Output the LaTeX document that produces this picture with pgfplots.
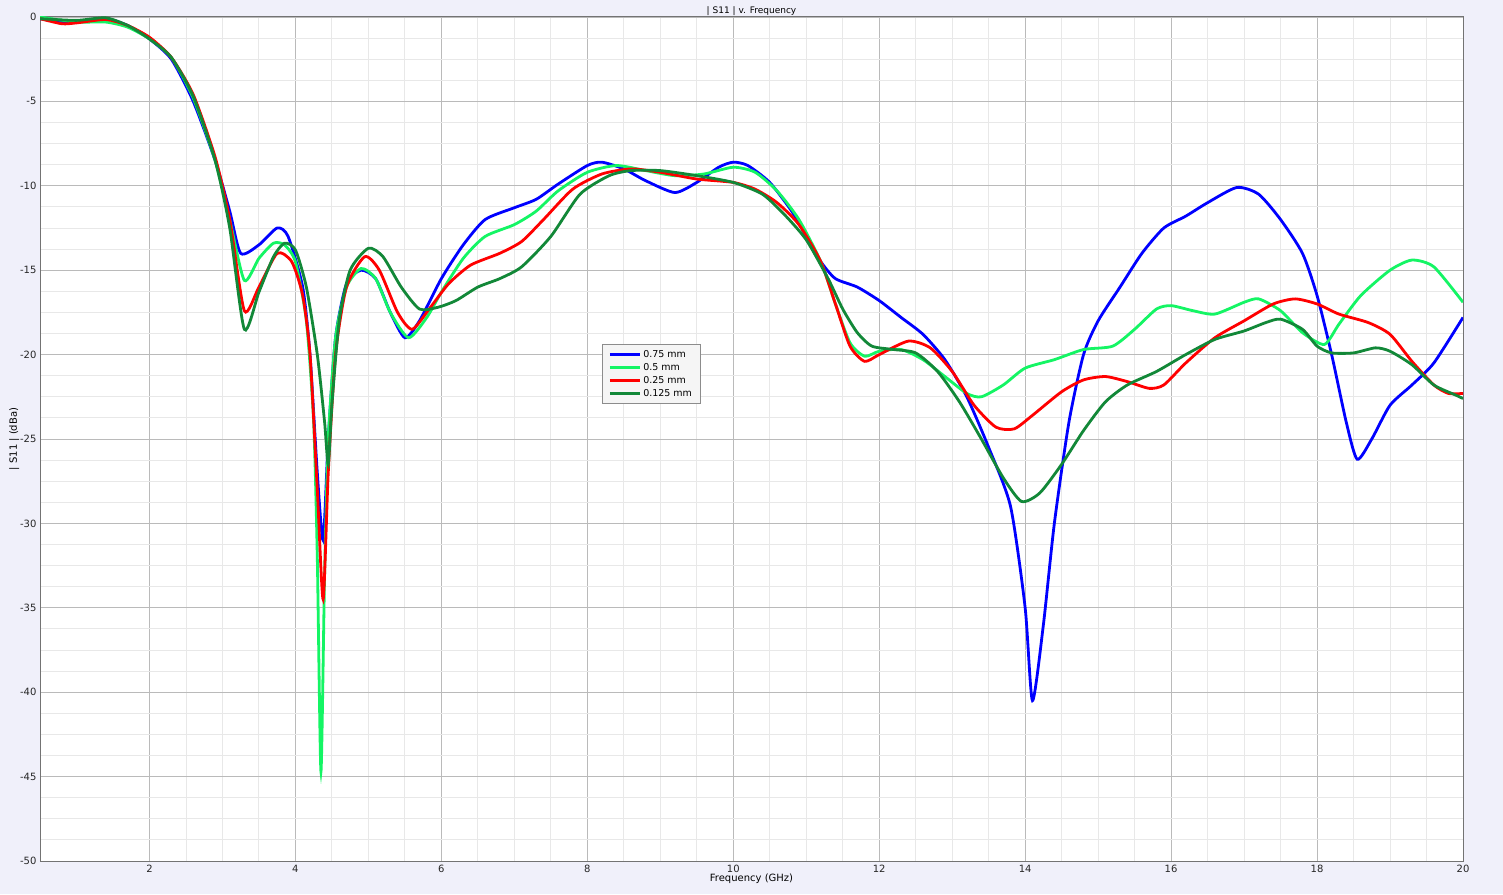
\documentclass[border=0pt]{standalone}
\usepackage{pgfplots}
\pgfplotsset{compat=1.18}
\usepackage{fontspec}
\setmainfont{DejaVu Sans}
\definecolor{bgc}{RGB}{240,240,250}
\definecolor{cblue}{RGB}{0,0,255}
\definecolor{clgreen}{RGB}{20,245,100}
\definecolor{cred}{RGB}{255,0,0}
\definecolor{cdgreen}{RGB}{18,136,56}
\begin{document}
\begin{tikzpicture}[x=1pt,y=1pt]
\fill[bgc] (0,0) rectangle (1503,894);
\begin{axis}[
  at={(40pt,33pt)}, anchor=south west,
  scale only axis, width=1423pt, height=844pt,
  xmin=0.5, xmax=20, ymin=-50, ymax=0,
  xtick={2,4,...,20}, ytick={-50,-45,...,0},
  minor x tick num=3, minor y tick num=3,
  grid=both,
  major grid style={draw=black!27, line width=0.9pt},
  minor grid style={draw=black!9, line width=0.9pt},
  axis line style={draw=black!55, line width=1pt},
  major tick length=0pt, minor tick length=0pt,
  axis background/.style={fill=white},
  /pgf/number format/assume math mode=true,
  ticklabel style={font=\fontsize{10}{12}\selectfont, text=black!85},
  xticklabel style={yshift=-1pt},
  xlabel={Frequency (GHz)}, ylabel={| S11 | (dBa)},
  xlabel style={font=\fontsize{10}{12}\selectfont, yshift=6pt},
  ylabel style={font=\fontsize{10}{12}\selectfont, yshift=-6pt},
  title={| S11 | v. Frequency},
  title style={font=\fontsize{9}{11}\selectfont, yshift=-8pt},
  legend style={at={(0.395,0.613)}, anchor=north west, fill=black!4, draw=black!45,
    font=\fontsize{9.5}{11}\selectfont, row sep=0.5pt, inner xsep=6pt, inner ysep=4pt,
    line width=0.8pt},
  legend image post style={line width=2.8pt},
  legend image code/.code={\draw[#1] (0pt,0pt) -- (30pt,0pt);},
  legend cell align=left,
  every axis plot/.append style={line width=2.8pt, smooth, tension=0.4},
]
\addplot[cblue] coordinates {
(0.5,-0.1)(0.8,-0.3)(1.0,-0.3)(1.4,-0.1)(1.7,-0.5)(2.0,-1.3)(2.3,-2.5)(2.6,-5.0)(2.9,-8.5)(3.1,-11.5)(3.25,-14.0)(3.5,-13.5)(3.75,-12.5)(3.9,-13)(4.1,-16)(4.2,-20)(4.3,-27)(4.38,-31)(4.45,-25)(4.55,-19)(4.7,-15.8)(4.9,-15.0)(5.1,-15.5)(5.3,-17.5)(5.5,-19.0)(5.7,-18)(6.0,-15.5)(6.3,-13.5)(6.6,-12.0)(7.0,-11.3)(7.3,-10.8)(7.6,-9.9)(8.0,-8.8)(8.2,-8.6)(8.5,-9.0)(8.8,-9.7)(9.2,-10.4)(9.5,-9.8)(9.8,-8.9)(10.0,-8.6)(10.2,-8.8)(10.5,-9.8)(10.8,-11.5)(11.0,-13.0)(11.2,-14.5)(11.4,-15.5)(11.7,-16.0)(12.0,-16.8)(12.3,-17.8)(12.6,-18.8)(12.9,-20.3)(13.2,-22.5)(13.5,-25.5)(13.8,-29)(14.0,-35)(14.1,-40.5)(14.25,-36)(14.4,-30)(14.6,-24)(14.8,-20)(15.0,-18)(15.3,-16)(15.6,-14)(15.9,-12.5)(16.2,-11.8)(16.5,-11)(16.9,-10.1)(17.2,-10.5)(17.5,-12)(17.8,-14)(18.0,-16.5)(18.2,-20)(18.4,-24)(18.55,-26.2)(18.75,-25)(19.0,-23)(19.3,-21.8)(19.6,-20.5)(20.0,-17.8)};
\addlegendentry{0.75 mm}
\addplot[clgreen] coordinates {
(0.5,0)(1.0,-0.3)(1.4,-0.3)(1.7,-0.6)(2.0,-1.3)(2.3,-2.4)(2.6,-4.8)(2.9,-8.5)(3.1,-12)(3.3,-15.6)(3.5,-14.3)(3.7,-13.4)(3.85,-13.5)(4.0,-14.5)(4.15,-18)(4.25,-24)(4.3,-32)(4.35,-44.7)(4.4,-33)(4.45,-25)(4.55,-19)(4.7,-16)(4.9,-14.9)(5.1,-15.5)(5.3,-17.5)(5.55,-19)(5.8,-17.8)(6.0,-16.3)(6.3,-14.3)(6.6,-13.0)(7.0,-12.3)(7.3,-11.5)(7.6,-10.3)(8.0,-9.2)(8.4,-8.8)(8.8,-9.1)(9.2,-9.4)(9.6,-9.3)(10.0,-8.9)(10.3,-9.2)(10.6,-10.3)(10.9,-12)(11.2,-14.5)(11.4,-17)(11.6,-19.3)(11.8,-20.1)(12.0,-19.8)(12.3,-19.7)(12.6,-20.3)(12.9,-21.3)(13.2,-22.3)(13.4,-22.5)(13.7,-21.8)(14.0,-20.8)(14.4,-20.3)(14.8,-19.7)(15.2,-19.5)(15.5,-18.5)(15.8,-17.3)(16.0,-17.1)(16.3,-17.4)(16.6,-17.6)(17.0,-16.9)(17.2,-16.7)(17.5,-17.4)(17.8,-18.7)(18.1,-19.4)(18.3,-18.2)(18.6,-16.5)(19.0,-15)(19.3,-14.4)(19.6,-14.8)(20.0,-16.9)};
\addlegendentry{0.5 mm}
\addplot[cred] coordinates {
(0.5,-0.1)(0.8,-0.4)(1.0,-0.35)(1.4,-0.15)(1.7,-0.5)(2.0,-1.2)(2.3,-2.4)(2.6,-4.6)(2.9,-8.3)(3.1,-12)(3.3,-17.4)(3.5,-16)(3.75,-14)(3.95,-14.5)(4.1,-16.5)(4.2,-20)(4.3,-28)(4.38,-34.5)(4.45,-27)(4.55,-20)(4.7,-16)(4.95,-14.2)(5.15,-15)(5.4,-17.5)(5.6,-18.5)(5.85,-17.2)(6.1,-15.8)(6.4,-14.7)(6.8,-14)(7.1,-13.3)(7.4,-12)(7.8,-10.2)(8.2,-9.3)(8.6,-9.0)(9.0,-9.2)(9.5,-9.6)(10.0,-9.8)(10.3,-10.2)(10.6,-11.0)(10.9,-12.3)(11.2,-14.5)(11.4,-17)(11.6,-19.5)(11.8,-20.4)(12.0,-20.0)(12.4,-19.2)(12.7,-19.6)(13.0,-21)(13.3,-23)(13.6,-24.3)(13.85,-24.4)(14.1,-23.6)(14.5,-22.2)(14.8,-21.5)(15.1,-21.3)(15.4,-21.6)(15.7,-22)(15.9,-21.8)(16.2,-20.5)(16.6,-19)(17.0,-18)(17.4,-17)(17.7,-16.7)(18.0,-17)(18.3,-17.6)(18.7,-18.1)(19.0,-18.8)(19.3,-20.4)(19.6,-21.8)(19.8,-22.3)(20.0,-22.3)};
\addlegendentry{0.25 mm}
\addplot[cdgreen] coordinates {
(0.5,-0.1)(1.0,-0.2)(1.4,-0.05)(1.7,-0.5)(2.0,-1.3)(2.3,-2.4)(2.6,-4.7)(2.9,-8.5)(3.1,-12.5)(3.3,-18.5)(3.5,-16.3)(3.7,-14.2)(3.85,-13.4)(4.0,-13.8)(4.15,-16)(4.3,-20)(4.4,-24)(4.45,-26.5)(4.5,-23)(4.6,-18)(4.75,-15)(5.0,-13.7)(5.2,-14.2)(5.45,-16)(5.7,-17.3)(5.95,-17.2)(6.2,-16.8)(6.5,-16)(6.8,-15.5)(7.1,-14.8)(7.5,-13)(7.9,-10.5)(8.3,-9.4)(8.6,-9.1)(9.0,-9.1)(9.5,-9.4)(10.0,-9.8)(10.4,-10.5)(10.7,-11.7)(11.0,-13.2)(11.3,-15.5)(11.5,-17.3)(11.7,-18.7)(11.9,-19.5)(12.2,-19.7)(12.5,-19.9)(12.8,-21)(13.1,-22.8)(13.4,-25)(13.7,-27.3)(13.95,-28.7)(14.2,-28.2)(14.5,-26.5)(14.8,-24.5)(15.1,-22.8)(15.4,-21.8)(15.8,-21)(16.2,-20)(16.6,-19.1)(17.0,-18.6)(17.3,-18.1)(17.5,-17.9)(17.8,-18.5)(18.0,-19.5)(18.2,-19.9)(18.5,-19.9)(18.8,-19.6)(19.0,-19.8)(19.3,-20.6)(19.6,-21.8)(19.9,-22.4)(20.0,-22.6)};
\addlegendentry{0.125 mm}
\end{axis}
\end{tikzpicture}
\end{document}
